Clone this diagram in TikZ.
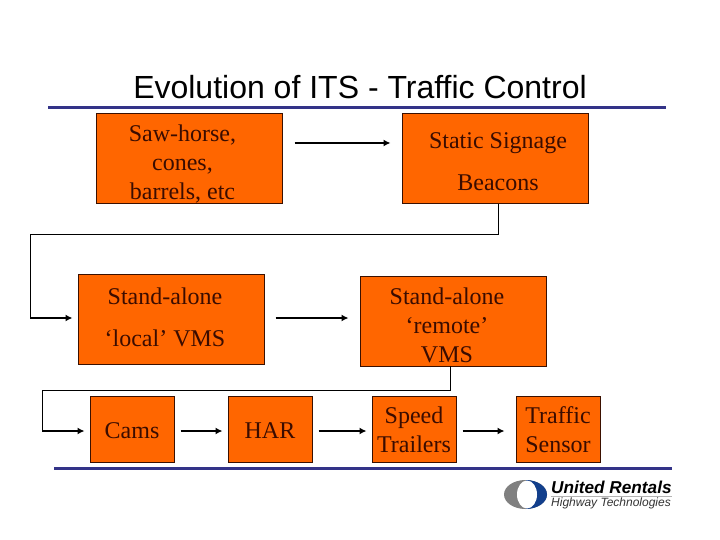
\documentclass[tikz,border=0pt]{standalone}
\usepackage{fontspec}
\setmainfont{Liberation Serif}
\newfontfamily\arialfont{Liberation Sans}
\usetikzlibrary{arrows.meta}
\definecolor{boxfill}{HTML}{FF6600}
\definecolor{boxedge}{HTML}{3A1000}
\definecolor{boxtext}{HTML}{3A0C00}
\definecolor{rulecol}{HTML}{333388}
\definecolor{logoblue}{HTML}{123F8C}
\definecolor{logogrey}{HTML}{808080}
\tikzset{
  orangebox/.style={draw=boxedge,fill=boxfill,line width=1pt,inner sep=0pt,outer sep=0pt},
  widebox/.style={orangebox,minimum width=186pt,minimum height=90pt},
  smallbox/.style={orangebox,minimum width=84pt,minimum height=66pt},
  boxlabel/.style={text=boxtext,font=\fontsize{24}{29}\selectfont,align=center,inner sep=0pt},
  conn/.style={draw=black,line width=1pt},
  flow/.style={draw=black,line width=1.5pt,-{Latex[length=7pt,width=7pt]}},
  rulebar/.style={draw=rulecol,line width=3pt},
}
\begin{document}
\begin{tikzpicture}[x=1pt,y=-1pt]
\useasboundingbox (0,0) rectangle (720,540);
% rules
\coordinate (r1a) at (48,108); \coordinate (r1b) at (666,108);
\coordinate (r2a) at (54,468); \coordinate (r2b) at (672,468);
\draw[rulebar] (r1a) -- (r1b);
\draw[rulebar] (r2a) -- (r2b);
% title
\node[font=\arialfont\fontsize{32}{38}\selectfont,anchor=base,inner sep=0pt] (title) at (360,99) {Evolution of ITS - Traffic Control};
% boxes
\node[widebox] (saw) at (189.5,159) {};
\node[widebox] (static) at (495.5,159) {};
\node[widebox] (local) at (171.5,319) {};
\node[widebox] (remote) at (453.5,321) {};
\node[smallbox] (cams) at (132.5,429) {};
\node[smallbox] (har) at (270.5,429) {};
\node[smallbox] (speed) at (414.5,429) {};
\node[smallbox] (sensor) at (558.5,429) {};
% labels
\node[boxlabel] (tsaw) at (182.5,164) {Saw-horse,\\[0pt]cones,\\[0pt]barrels, etc};
\node[boxlabel] (tstatic) at (498,162) {Static Signage\\[13pt]Beacons};
\node[boxlabel] (tlocal) at (165,317) {Stand-alone\\[13pt]‘local’ VMS};
\node[boxlabel] (tremote) at (447,325) {Stand-alone\\[0pt]‘remote’\\[0pt]VMS};
\node[boxlabel] (tcams) at (132,431) {Cams};
\node[boxlabel] (thar) at (270,431) {HAR};
\node[boxlabel] (tspeed) at (414,430) {Speed\\[0pt]Trailers};
\node[boxlabel] (tsensor) at (558,430) {Traffic\\[0pt]Sensor};
% connectors
\coordinate (a1) at (30,234); \coordinate (a2) at (30,318); \coordinate (a3) at (498,234);
\coordinate (b1) at (42,390); \coordinate (b2) at (42,431); \coordinate (b3) at (450,390);
\coordinate (ys) at (0,143); \coordinate (yl) at (0,318); \coordinate (yc) at (0,431);
\draw[conn] (a3 |- static.south) -- (a3) -- (a1) -- (a2);
\draw[flow,shorten >=6pt] (a2) -- (local.west |- a2);
\draw[conn] (b3 |- remote.south) -- (b3) -- (b1) -- (b2);
\draw[flow,shorten >=6pt] (b2) -- (cams.west |- b2);
\draw[flow,shorten <=12pt,shorten >=12pt] (saw.east |- ys) -- (static.west |- ys);
\draw[flow,shorten <=11pt,shorten >=12pt] (local.east |- yl) -- (remote.west |- yl);
\draw[flow,shorten <=6pt,shorten >=6pt] (cams.east |- yc) -- (har.west |- yc);
\draw[flow,shorten <=6pt,shorten >=6pt] (har.east |- yc) -- (speed.west |- yc);
\draw[flow,shorten <=6pt,shorten >=12pt] (speed.east |- yc) -- (sensor.west |- yc);
% logo
\fill[logogrey] (525.5,494.5) ellipse (21.5pt and 14.5pt);
\begin{scope}
\clip (526,478) rectangle (550,511);
\fill[logoblue] (525.5,494.5) ellipse (21.5pt and 14.5pt);
\end{scope}
\fill[white] (527,494.5) ellipse (10pt and 14pt);
\node[font=\arialfont\bfseries\itshape\fontsize{17.2}{20}\selectfont,anchor=base west,inner sep=0pt] (logoa) at (551,493) {United Rentals};
\draw[logogrey!60,line width=0.4pt] (551,496) -- (672,496);
\node[font=\arialfont\itshape\fontsize{12}{14}\selectfont,anchor=base west,inner sep=0pt,text=black!80] (logob) at (551,506) {Highway Technologies};
\end{tikzpicture}
\end{document}
